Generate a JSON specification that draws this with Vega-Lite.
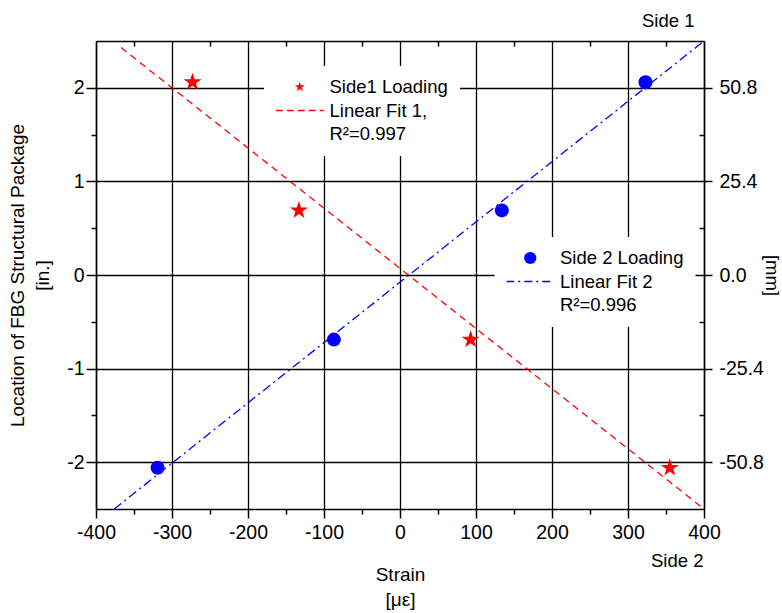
{
  "$schema": "https://vega.github.io/schema/vega-lite/v6.json",
  "width": 608,
  "height": 468,
  "autosize": {"type": "none"},
  "padding": {"left": 96, "top": 41, "right": 78, "bottom": 104},
  "background": "white",
  "config": {
    "font": "Liberation Sans",
    "view": {"stroke": null},
    "axis": {
      "domainColor": "black",
      "domainWidth": 1.5,
      "tickColor": "black",
      "tickWidth": 1.5,
      "labelColor": "black",
      "labelFontSize": 19.5,
      "titleColor": "black",
      "titleFontSize": 19,
      "titleFontWeight": "normal",
      "gridColor": "black",
      "gridOpacity": 1,
      "gridWidth": 1.3
    }
  },
  "resolve": {"axis": {"x": "independent", "y": "independent"}},
  "layer": [
    {
      "data": {"values": [
        {"strain": -273, "loc": 2.06, "series": "Side1 Loading"},
        {"strain": -133, "loc": 0.69, "series": "Side1 Loading"},
        {"strain": 93, "loc": -0.69, "series": "Side1 Loading"},
        {"strain": 355, "loc": -2.06, "series": "Side1 Loading"}
      ]},
      "mark": {"type": "point", "filled": true, "opacity": 1, "size": 361, "strokeWidth": 0,
        "shape": "M0,-1L0.2245,-0.309L0.951,-0.309L0.363,0.118L0.588,0.809L0,0.382L-0.588,0.809L-0.363,0.118L-0.951,-0.309L-0.2245,-0.309Z"},
      "encoding": {
        "x": {"field": "strain", "type": "quantitative",
          "scale": {"domain": [-400, 400], "nice": false, "zero": false},
          "axis": {"orient": "bottom", "values": [-400, -300, -200, -100, 0, 100, 200, 300, 400],
            "grid": true, "tickSize": 9, "labelPadding": 5, "labelFlush": false,
            "labelExpr": "replace(datum.label, '−', '-')",
            "title": ["Strain", "[με]"], "titleLineHeight": 25, "titlePadding": 24}},
        "y": {"field": "loc", "type": "quantitative",
          "scale": {"domain": [-2.5, 2.5], "nice": false, "zero": false},
          "axis": {"orient": "left", "values": [-2, -1, 0, 1, 2],
            "grid": true, "tickSize": 10, "labelPadding": 2, "labelFlush": false,
            "labelExpr": "replace(datum.label, '−', '-')",
            "title": ["Location of FBG Structural Package", "[in.]"], "titleLineHeight": 25, "titlePadding": 14}},
        "color": {"field": "series", "type": "nominal",
          "scale": {"domain": ["Side1 Loading", "Linear Fit 1,", "R²=0.997"],
            "range": ["#ff0000", "#ff0000", "transparent"]},
          "legend": {
            "orient": "none", "legendX": 168, "legendY": 25, "title": null,
            "fillColor": "white", "strokeColor": null, "padding": 12,
            "clipHeight": 18, "rowPadding": 4.5, "labelFontSize": 18.5,
            "symbolOffset": 14.5, "labelOffset": 20.5,
            "labelColor": "black", "labelLimit": 300, "symbolStrokeWidth": 1.3, "symbolOpacity": 1,
            "encode": {"symbols": {"update": {
              "shape": {"signal": "datum.value === 'Linear Fit 1,' ? 'stroke' : 'M0,-1L0.2245,-0.309L0.951,-0.309L0.363,0.118L0.588,0.809L0,0.382L-0.588,0.809L-0.363,0.118L-0.951,-0.309L-0.2245,-0.309Z'"},
              "fill": {"signal": "datum.value === 'Side1 Loading' ? '#ff0000' : 'transparent'"},
              "stroke": {"signal": "datum.value === 'Linear Fit 1,' ? '#ff0000' : 'transparent'"},
              "strokeDash": {"value": [7, 4]},
              "strokeWidth": {"value": 1.3},
              "size": {"signal": "datum.value === 'Linear Fit 1,' ? 2304 : 112"},
              "opacity": {"value": 1}
            }}}
          }}
      }
    },
    {
      "data": {"values": [
        {"strain": -319, "loc": -2.06, "series": "Side 2 Loading"},
        {"strain": -87, "loc": -0.69, "series": "Side 2 Loading"},
        {"strain": 134, "loc": 0.69, "series": "Side 2 Loading"},
        {"strain": 323, "loc": 2.06, "series": "Side 2 Loading"}
      ]},
      "mark": {"type": "point", "filled": true, "shape": "circle", "opacity": 1, "size": 196, "strokeWidth": 0},
      "encoding": {
        "x": {"field": "strain", "type": "quantitative",
          "scale": {"domain": [-400, 400], "nice": false, "zero": false},
          "axis": {"orient": "top", "values": [-400, -300, -200, -100, 0, 100, 200, 300, 400],
            "grid": false, "ticks": false, "labels": false,
            "title": "Side 1", "titleFontSize": 18.5, "titleAlign": "right", "titleBaseline": "alphabetic",
            "titleX": 598, "titleY": -15}},
        "y": {"field": "loc", "type": "quantitative",
          "scale": {"domain": [-2.5, 2.5], "nice": false, "zero": false},
          "axis": {"orient": "right", "values": [-2, -1, 0, 1, 2],
            "grid": false, "tickSize": 8, "labelPadding": 7, "labelFlush": false,
            "labelExpr": "replace(format(datum.value * 25.4, '.1f'), '−', '-')",
            "title": "[mm]", "titleFontSize": 18.5, "titleAngle": 90, "titleAlign": "center", "titleBaseline": "middle",
            "titleX": 67, "titleY": 234}},
        "fill": {"field": "series", "type": "nominal",
          "scale": {"domain": ["Side 2 Loading", "Linear Fit 2", "R²=0.996"],
            "range": ["#0000ff", "#0000ff", "transparent"]},
          "legend": {
            "orient": "none", "legendX": 398.5, "legendY": 196, "title": null,
            "fillColor": "white", "strokeColor": null, "padding": 12,
            "clipHeight": 18, "rowPadding": 4.5, "labelFontSize": 18.5,
            "symbolOffset": 14.5, "labelOffset": 20.5,
            "labelColor": "black", "labelLimit": 300, "symbolStrokeWidth": 1.3, "symbolOpacity": 1,
            "encode": {"symbols": {"update": {
              "shape": {"signal": "datum.value === 'Linear Fit 2' ? 'stroke' : 'circle'"},
              "fill": {"signal": "datum.value === 'Side 2 Loading' ? '#0000ff' : 'transparent'"},
              "stroke": {"signal": "datum.value === 'Linear Fit 2' ? '#0000ff' : 'transparent'"},
              "strokeDash": {"value": [8, 4, 2, 4]},
              "strokeWidth": {"value": 1.3},
              "size": {"signal": "datum.value === 'Linear Fit 2' ? 2304 : 150"},
              "opacity": {"value": 1}
            }}}
          }}
      }
    },
    {
      "data": {"values": [
        {"strain": -367, "loc": 2.43, "series": "Linear Fit 1,"},
        {"strain": 400, "loc": -2.5, "series": "Linear Fit 1,"}
      ]},
      "mark": {"type": "line", "color": "#ff0000", "strokeWidth": 1.3, "strokeDash": [7, 5]},
      "encoding": {
        "x": {"field": "strain", "type": "quantitative",
          "scale": {"domain": [-400, 400], "nice": false, "zero": false},
          "axis": {"orient": "bottom", "values": [-350, -250, -150, -50, 50, 150, 250, 350],
            "grid": false, "domain": false, "labels": false, "tickSize": 5,
            "title": "Side 2", "titleFontSize": 18.5, "titleAlign": "right", "titleBaseline": "alphabetic",
            "titleX": 607, "titleY": 57}},
        "y": {"field": "loc", "type": "quantitative",
          "scale": {"domain": [-2.5, 2.5], "nice": false, "zero": false},
          "axis": {"orient": "left", "values": [-1.5, -0.5, 0.5, 1.5],
            "grid": false, "domain": false, "labels": false, "tickSize": 5, "title": null}}
      }
    },
    {
      "data": {"values": [
        {"strain": -376, "loc": -2.5, "series": "Linear Fit 2"},
        {"strain": 400, "loc": 2.5, "series": "Linear Fit 2"}
      ]},
      "mark": {"type": "line", "color": "#0000ff", "strokeWidth": 1.3, "strokeDash": [9, 4, 2, 4]},
      "encoding": {
        "x": {"field": "strain", "type": "quantitative",
          "scale": {"domain": [-400, 400], "nice": false, "zero": false},
          "axis": {"orient": "top", "values": [-350, -250, -150, -50, 50, 150, 250, 350],
            "grid": false, "domain": false, "labels": false, "tickSize": -5, "title": null}},
        "y": {"field": "loc", "type": "quantitative",
          "scale": {"domain": [-2.5, 2.5], "nice": false, "zero": false},
          "axis": {"orient": "right", "values": [-1.5, -0.5, 0.5, 1.5],
            "grid": false, "domain": false, "labels": false, "tickSize": -5, "title": null}}
      }
    }
  ]
}
